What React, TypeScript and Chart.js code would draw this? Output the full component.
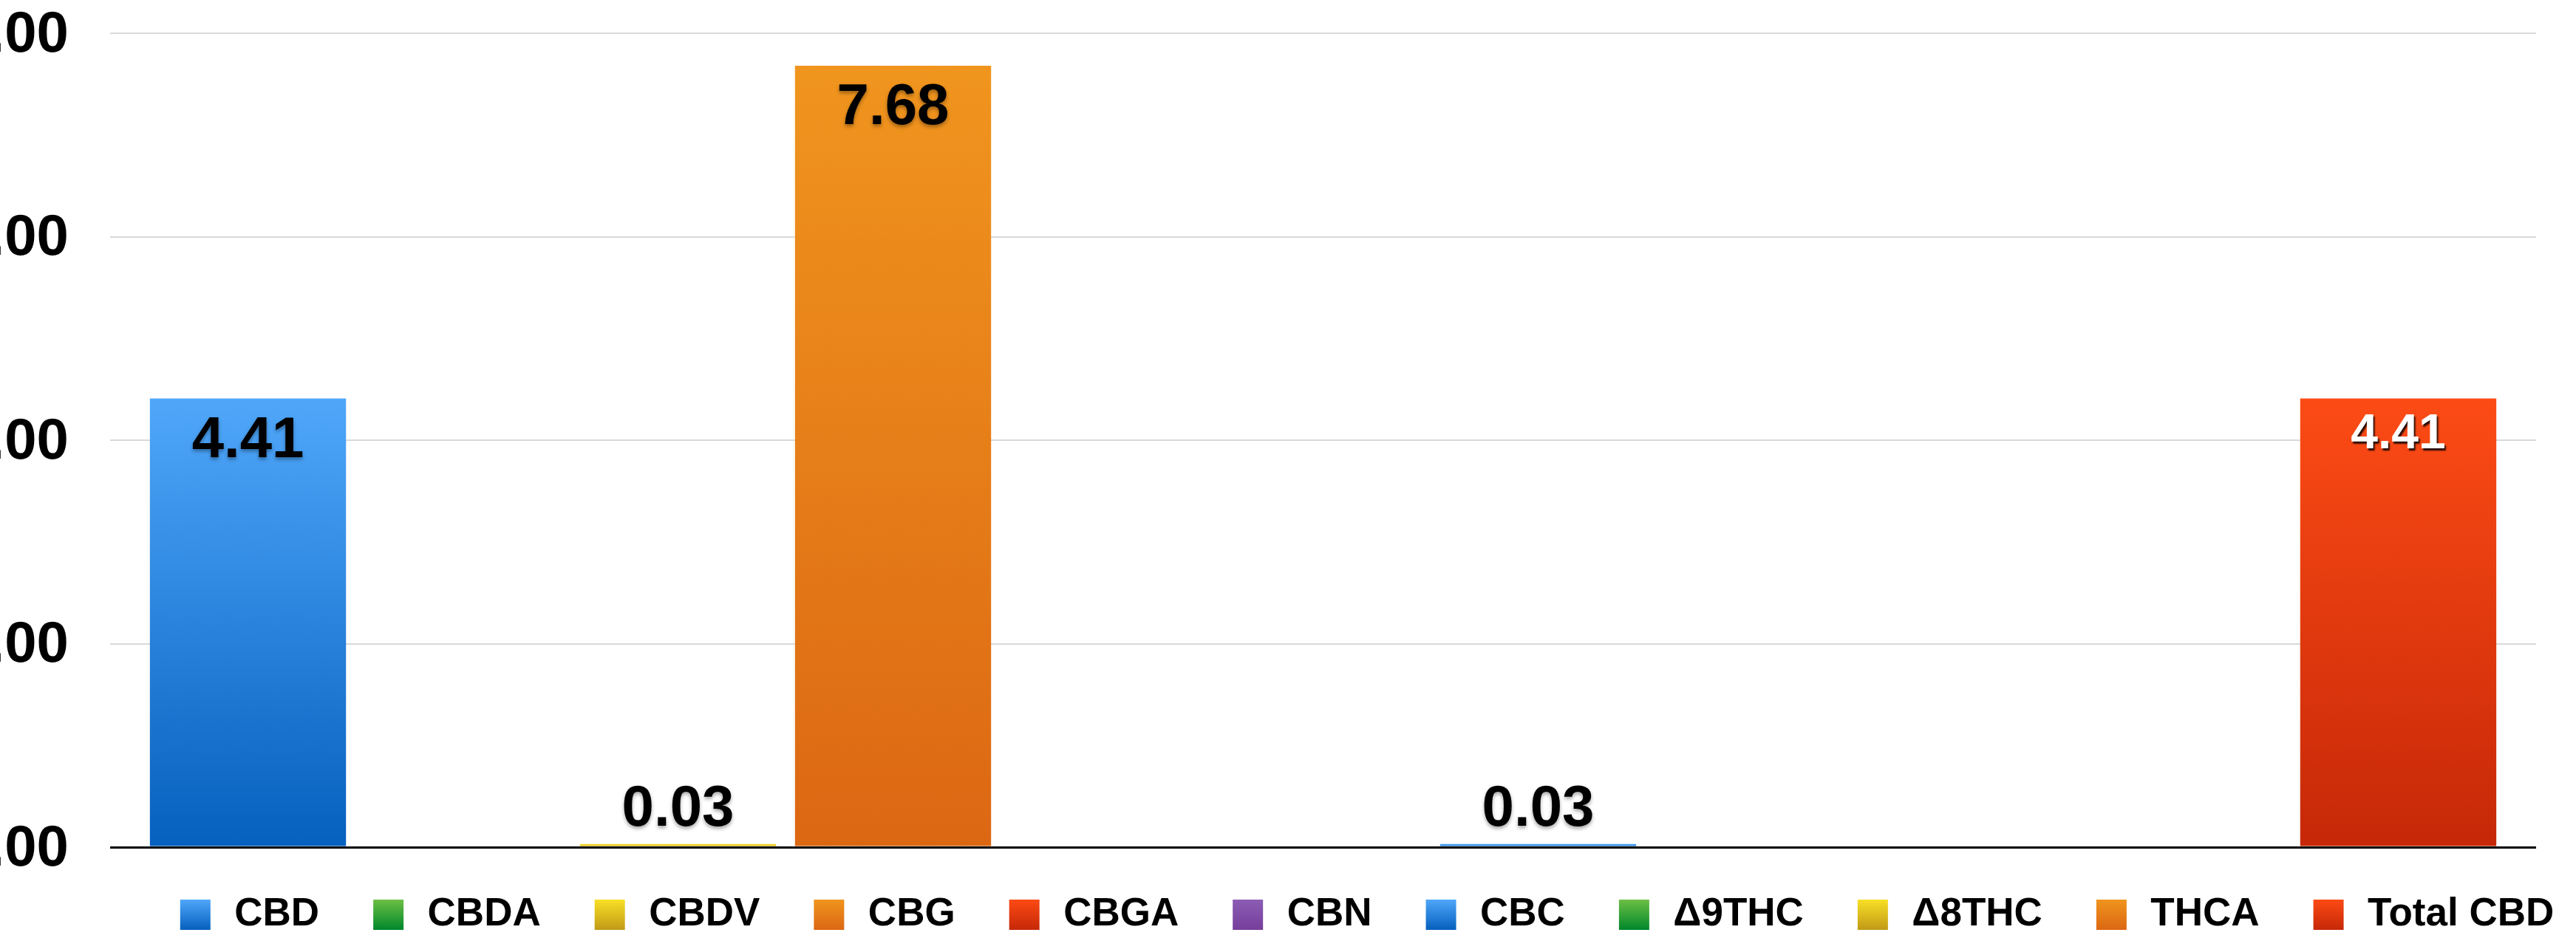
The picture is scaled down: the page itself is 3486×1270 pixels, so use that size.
import React, { useEffect, useRef } from 'react';
import { Chart, registerables } from 'chart.js';

Chart.register(...registerables);

// ---- data ----
const categories = [''];
const compounds = ['CBD', 'CBDA', 'CBDV', 'CBG', 'CBGA', 'CBN', 'CBC', 'Δ9THC', 'Δ8THC', 'THCA', 'Total CBD'];
const values = [4.41, 0, 0.03, 7.68, 0, 0, 0.03, 0, 0, 0, 4.41];
const yMin = 0;
const yMax = 8;
const yStep = 2;

// ---- styles ----
const FONT = '"Liberation Sans", Arial, Helvetica, sans-serif';
const BLUE = ['#50A7FA', '#0560BE'];
const GREEN = ['#6DC045', '#00872B'];
const YELLOW = ['#F8E026', '#C29A17'];
const ORANGE = ['#F0951E', '#DC6713'];
const RED = ['#FC4B15', '#C62808'];
const PURPLE = ['#8C5DB5', '#763E9B'];
const seriesColors = [BLUE, GREEN, YELLOW, ORANGE, RED, PURPLE, BLUE, GREEN, YELLOW, ORANGE, RED];
const labelColors = ['#000', '#000', '#000', '#000', '#000', '#000', '#000', '#000', '#000', '#000', '#fff'];
const labelSizes = [78, 78, 78, 78, 78, 78, 78, 78, 78, 78, 66];

const CANVAS_LEFT = -71;
const CANVAS_W = 3834;
const CANVAS_H = 1275;

function makeSwatch(c: string[]) {
  const cv = document.createElement('canvas');
  cv.width = 55;
  cv.height = 41;
  const g = cv.getContext('2d')!;
  const gr = g.createLinearGradient(0, 0, 0, 41);
  gr.addColorStop(0, c[0]);
  gr.addColorStop(1, c[1]);
  g.fillStyle = gr;
  g.fillRect(8, 0, 41, 41);
  return cv;
}

const valueLabels = {
  id: 'valueLabels',
  afterDatasetsDraw(chart: any) {
    const ctx = chart.ctx;
    chart.data.datasets.forEach((ds: any, i: number) => {
      const meta = chart.getDatasetMeta(i);
      meta.data.forEach((bar: any, j: number) => {
        const v = ds.data[j];
        if (!v) return;
        const { x, y, base } = bar.getProps(['x', 'y', 'base'], true);
        const size = labelSizes[i];
        const inside = base - y > 120;
        const ty = inside ? y + size * 0.7 + 3 : y - 46;
        ctx.save();
        ctx.font = `bold ${size}px ${FONT}`;
        ctx.textAlign = 'center';
        ctx.textBaseline = 'middle';
        const col = labelColors[i];
        if (col === '#fff') {
          ctx.shadowColor = 'rgba(0,0,0,0.85)';
          ctx.shadowBlur = 2;
          ctx.shadowOffsetX = 2;
          ctx.shadowOffsetY = 3;
        } else {
          ctx.shadowColor = 'rgba(0,0,0,0.35)';
          ctx.shadowBlur = 5;
          ctx.shadowOffsetX = 0;
          ctx.shadowOffsetY = 3;
        }
        ctx.fillStyle = col;
        ctx.fillText(Number(v).toFixed(2), x, ty);
        ctx.restore();
      });
    });
  },
};

export default function App() {
  const ref = useRef<HTMLCanvasElement | null>(null);

  useEffect(() => {
    if (!ref.current) return;
    const swatches = seriesColors.map(makeSwatch);
    const datasets = compounds.map((name, i) => ({
      label: name,
      data: [values[i]],
      borderWidth: 0,
      backgroundColor: (c: any) => {
        const cols = seriesColors[i];
        const chart = c.chart;
        if (!chart.chartArea || c.type !== 'data' || !chart.scales.y) return cols[0];
        const ys = chart.scales.y;
        const top = ys.getPixelForValue(c.raw);
        const bottom = ys.getPixelForValue(0);
        if (!(bottom - top > 1)) return cols[0];
        const g = chart.ctx.createLinearGradient(0, top, 0, bottom);
        g.addColorStop(0, cols[0]);
        g.addColorStop(1, cols[1]);
        return g;
      },
    }));

    const chart = new Chart(ref.current, {
      type: 'bar',
      data: { labels: categories, datasets },
      options: {
        responsive: false,
        maintainAspectRatio: false,
        devicePixelRatio: 1,
        animation: false,
        events: [],
        layout: { padding: { top: 45, left: 0, right: 0, bottom: 0 } },
        datasets: { bar: { categoryPercentage: 0.975, barPercentage: 0.912 } },
        scales: {
          x: { display: false },
          y: {
            min: yMin,
            max: yMax,
            position: 'left',
            border: { display: false },
            grid: {
              color: (c: any) => (c.tick && c.tick.value === 0 ? '#000' : '#d9d9d9'),
              lineWidth: (c: any) => (c.tick && c.tick.value === 0 ? 3 : 2),
              drawTicks: true,
              tickLength: 56,
              tickColor: 'rgba(0,0,0,0)',
            },
            ticks: {
              stepSize: yStep,
              padding: 0,
              labelOffset: 3,
              color: '#000',
              font: { family: FONT, size: 78, weight: 'bold', lineHeight: 1 },
              callback: (v: any) => Number(v).toFixed(2),
            },
            afterFit: (s: any) => {
              s.width = 220;
            },
          },
          y2: {
            position: 'right',
            display: true,
            border: { display: false },
            grid: { display: false, drawTicks: false },
            ticks: { display: false },
            afterFit: (s: any) => {
              s.width = CANVAS_W - (3432 - CANVAS_LEFT);
            },
          },
        },
        plugins: {
          tooltip: { enabled: false },
          title: { display: false },
          legend: {
            position: 'bottom',
            labels: {
              usePointStyle: true,
              pointStyleWidth: 55,
              padding: 65,
              color: '#000',
              font: { family: FONT, size: 53, weight: 'bold', lineHeight: 1 },
              generateLabels: (ch: any) => {
                const items = (Chart.defaults.plugins.legend.labels as any).generateLabels(ch);
                return items.map((it: any, i: number) => ({ ...it, pointStyle: swatches[i], fontColor: '#000' }));
              },
            },
          },
        },
      } as any,
      plugins: [valueLabels],
    });
    return () => chart.destroy();
  }, []);

  return (
    <div
      style={{
        position: 'fixed',
        left: 0,
        top: 0,
        width: 3486,
        height: 1270,
        overflow: 'hidden',
        background: '#fff',
      }}
    >
      <canvas
        ref={ref}
        width={CANVAS_W}
        height={CANVAS_H}
        style={{ position: 'absolute', left: CANVAS_LEFT, top: 0, width: CANVAS_W, height: CANVAS_H }}
      />
    </div>
  );
}
